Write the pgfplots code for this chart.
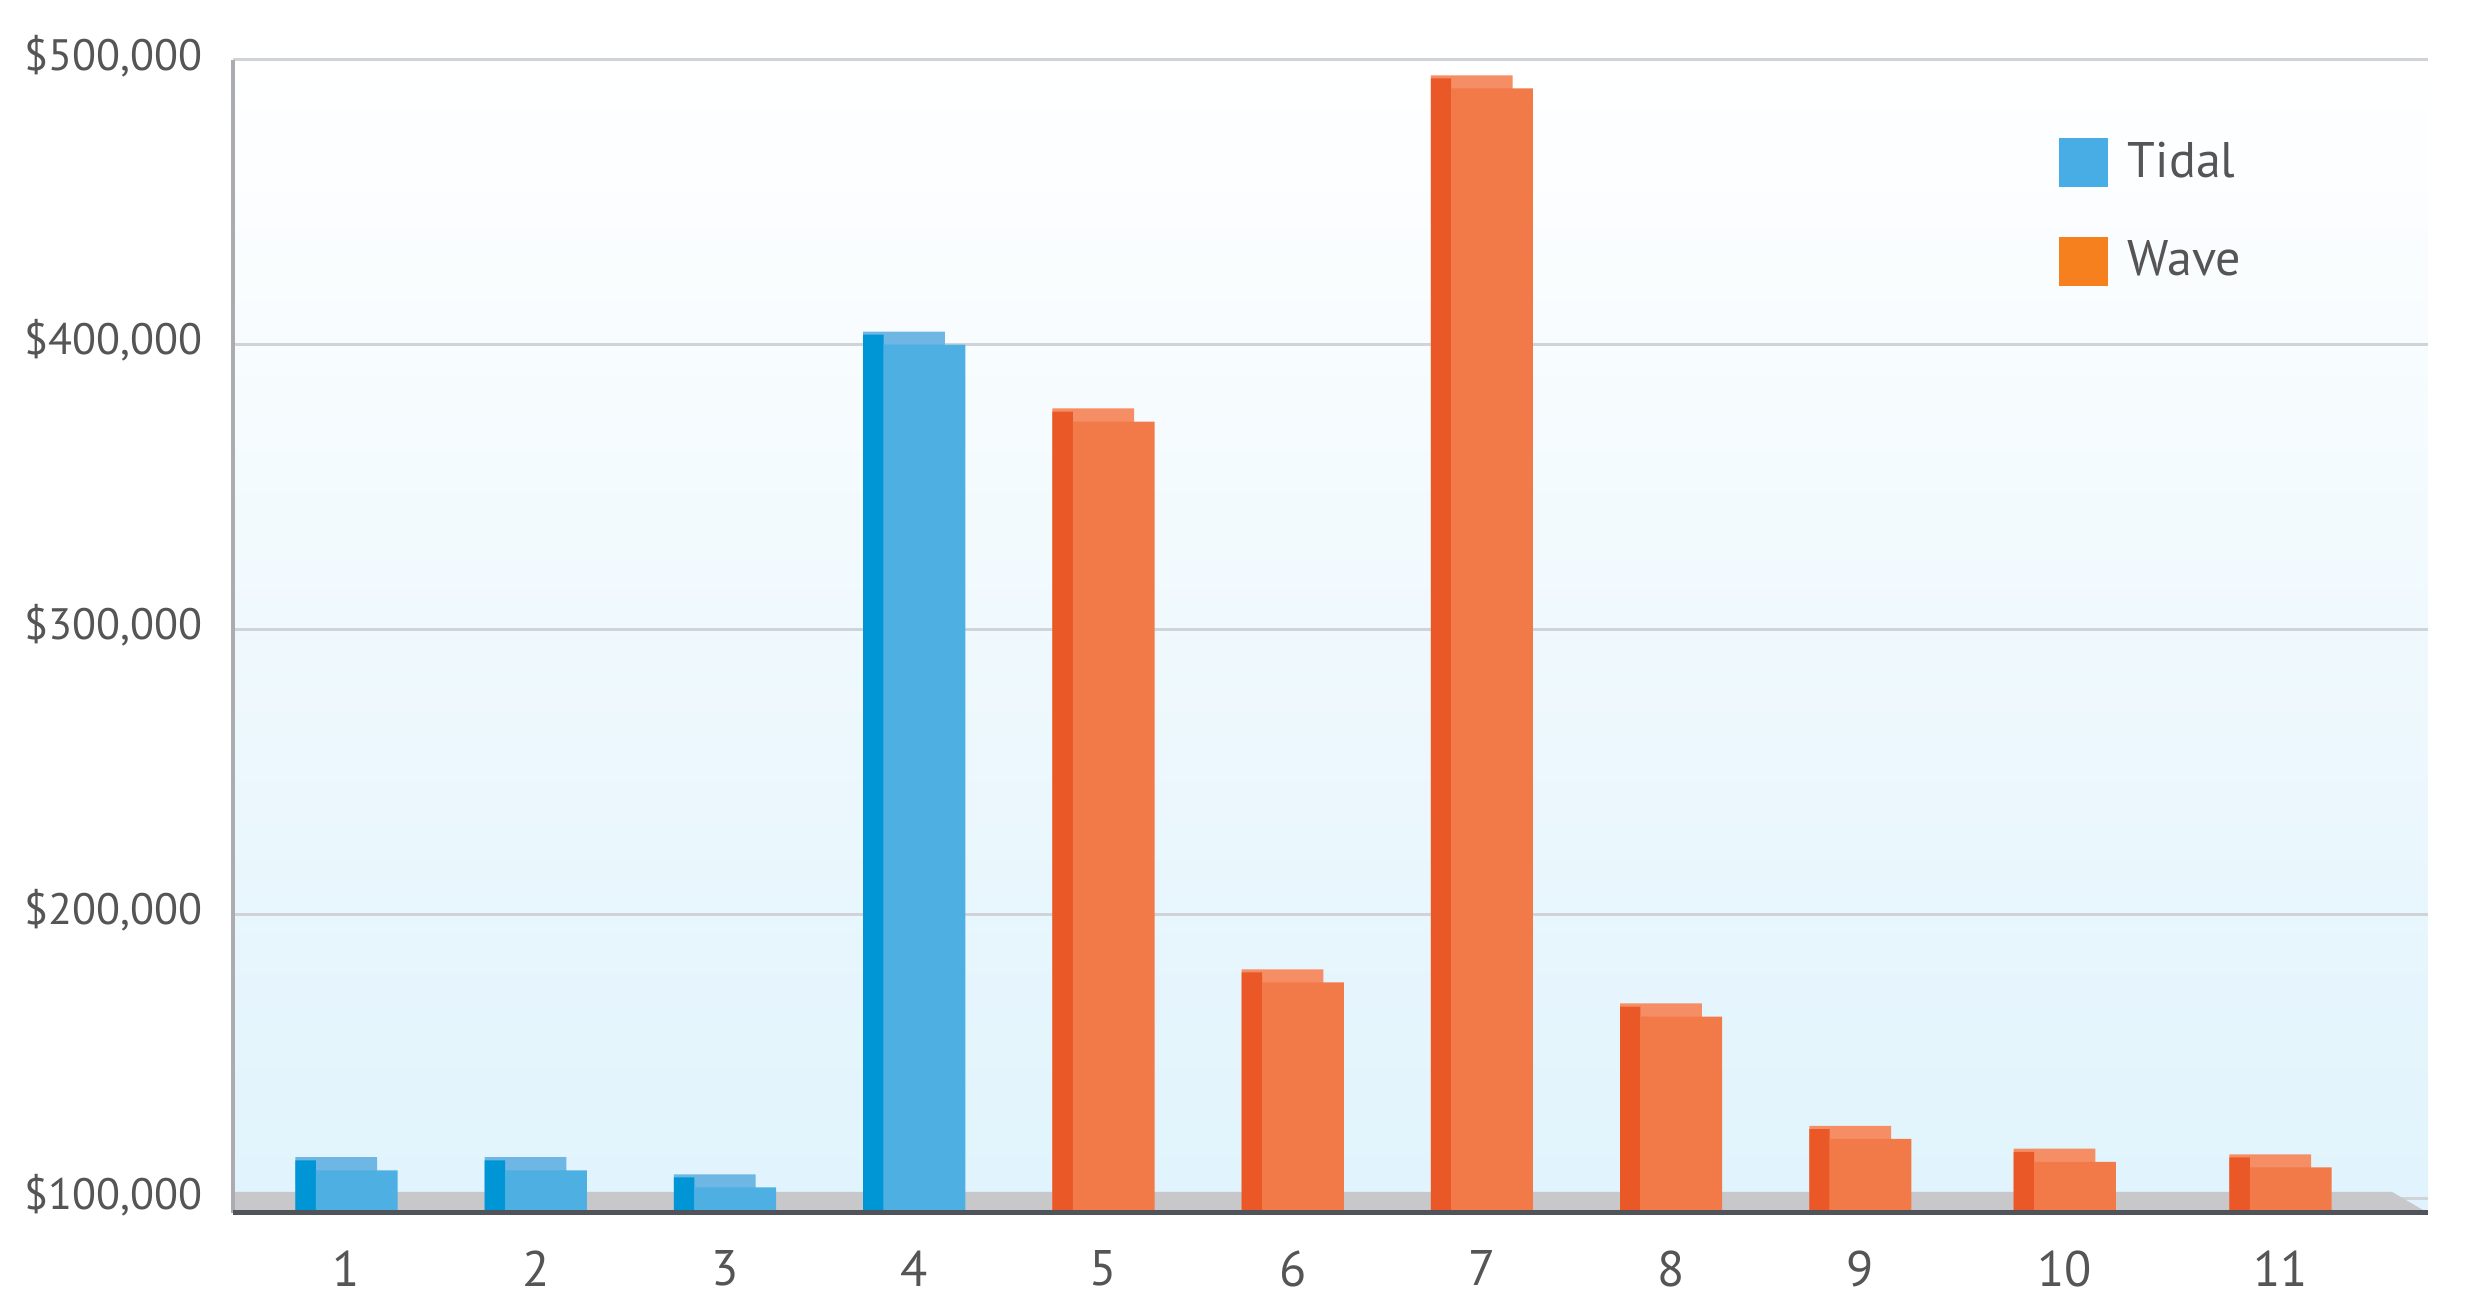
\documentclass[border=0pt]{standalone}
\usepackage{fontspec}
\setmainfont{PT Sans}
\usepackage{pgfplots}
\usepackage{pgfplotstable}
\pgfplotsset{compat=1.18}

\definecolor{tidalfront}{RGB}{78,175,227}
\definecolor{tidalside}{RGB}{0,150,214}
\definecolor{tidaltop}{RGB}{110,182,228}
\definecolor{wavefront}{RGB}{242,122,72}
\definecolor{waveside}{RGB}{234,88,40}
\definecolor{wavetop}{RGB}{245,142,100}
\definecolor{tidalleg}{RGB}{72,173,229}
\definecolor{waveleg}{RGB}{247,128,30}
\definecolor{bgblue}{RGB}{224,243,252}
\definecolor{gridgray}{RGB}{208,212,216}
\definecolor{floorgray}{RGB}{200,200,202}
\definecolor{axisgray}{RGB}{170,172,175}
\definecolor{basedark}{RGB}{80,84,90}
\definecolor{textgray}{RGB}{85,85,85}

% values (front top edge of each bar);
% pos = where the category sits on the drawn axis (the last two are spaced wider)
\pgfplotstableread{
cat pos v
1 1 110000
2 2 110000
3 3 104000
4 4 400000
}\tidal
\pgfplotstableread{
cat pos v
5 5 373000
6 6 176000
7 7 490000
8 8 164000
9 9 121000
10 10.08 113000
11 11.22 111000
}\wave

\begin{document}
\begin{tikzpicture}
\useasboundingbox (-58.25pt,-23pt) rectangle (559.75pt,303.25pt);
\begin{axis}[
    name=ax, at={(0,0)}, anchor=south west,
    scale only axis, width=548.75pt, height=288.25pt,
    xmin=0.4, xmax=12, ymin=95000, ymax=500000,
    xtick={1,2,3,4,5,6,7,8,9,10.08,11.22},
    xticklabels={\mbox{1},\mbox{2},\mbox{3},\mbox{4},\mbox{5},\mbox{6},
        \mbox{7},\mbox{8},\mbox{9},\mbox{10},\mbox{11}},
    ytick={100000,200000,300000,400000,500000},
    yticklabels={\mbox{\$100,000},\mbox{\$200,000},\mbox{\$300,000},
        \mbox{\$400,000},\mbox{\$500,000}},
    scaled y ticks=false,
    major tick length=0pt, tick style={draw=none},
    axis line style={draw=none},
    ymajorgrids, grid style={gridgray, line width=0.75pt},
    axis background/.style={shade, top color=white, bottom color=bgblue},
    yticklabel style={font=\fontsize{11}{13}\selectfont, text=textgray,
        anchor=east, inner sep=0pt, xshift=-7.5pt, yshift=1pt},
    xticklabel style={font=\fontsize{12.5}{14}\selectfont, text=textgray,
        anchor=north, inner sep=0pt, yshift=-9.25pt},
    legend image code/.code={\fill[#1] (0pt,-6.125pt) rectangle (12.25pt,6.125pt);},
    legend style={at={(rel axis cs:0.8315,0.9365)}, anchor=north west,
        draw=none, fill=none, inner sep=0pt, row sep=10.3pt,
        font=\fontsize{12.5}{14}\selectfont, text=textgray,
        /tikz/every odd column/.style={column sep=3pt}},
    legend cell align=left,
]
\addlegendimage{fill=tidalleg, draw=none}
\addlegendimage{fill=waveleg, draw=none}

% floor
\addplot[fill=floorgray, draw=none, forget plot]
    coordinates {(0.4,95000) (12,95000) (11.81,102400) (0.4,102400)};

% top faces (back box)
\addplot[ybar, bar width=0.432, bar shift=-0.054, fill=tidaltop, draw=none, forget plot]
    table[x=pos, y expr=\thisrow{v}+4600] {\tidal};
\addplot[ybar, bar width=0.432, bar shift=-0.054, fill=wavetop, draw=none, forget plot]
    table[x=pos, y expr=\thisrow{v}+4600] {\wave};
% side faces
\addplot[ybar, bar width=0.108, bar shift=-0.216, fill=tidalside, draw=none, forget plot]
    table[x=pos, y expr=\thisrow{v}+3500] {\tidal};
\addplot[ybar, bar width=0.108, bar shift=-0.216, fill=waveside, draw=none, forget plot]
    table[x=pos, y expr=\thisrow{v}+3500] {\wave};
% front faces
\addplot[ybar, bar width=0.432, bar shift=0.054, fill=tidalfront, draw=none, forget plot]
    table[x=pos, y=v] {\tidal};
\addplot[ybar, bar width=0.432, bar shift=0.054, fill=wavefront, draw=none, forget plot]
    table[x=pos, y=v] {\wave};

\legend{Tidal, Wave}
\end{axis}
\draw[axisgray, line width=1pt] (ax.south west) -- (ax.north west);
\draw[basedark, line width=1.25pt] (ax.south west) -- (ax.south east);
\end{tikzpicture}
\end{document}
